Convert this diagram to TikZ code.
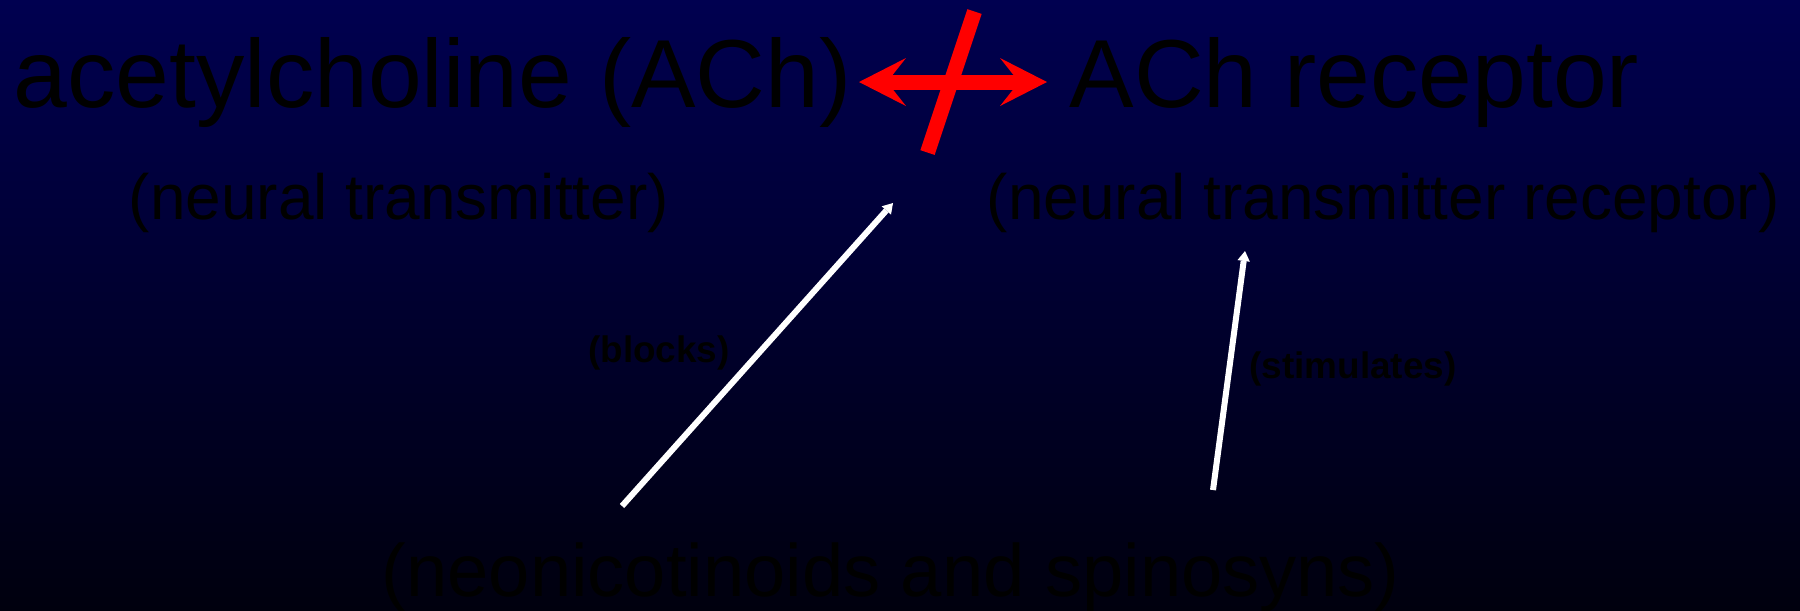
\documentclass[tikz,border=0pt]{standalone}
\usepackage{fontspec}
\setmainfont{Liberation Sans}
\usetikzlibrary{arrows.meta}
\definecolor{navytop}{RGB}{0,0,80}
\definecolor{navybottom}{RGB}{0,0,14}
\begin{document}
\begin{tikzpicture}[x=0.1mm, y=-0.1mm,
    bigtext/.style = {inner sep=0, anchor=base west, font=\fontsize{27.5pt}{32pt}\selectfont},
    subtext/.style = {inner sep=0, anchor=base west, font=\fontsize{18.2pt}{22pt}\selectfont},
    verbtext/.style = {inner sep=0, font=\bfseries\fontsize{10.5pt}{13pt}\selectfont},
    redmark/.style = {red, line width=1.5mm},
    redtip/.tip = {Stealth[length=4.7mm, width=4.8mm, inset=1.9mm, line width=0pt]},
    whitearrow/.style = {white, line width=0.6mm, -{Triangle[length=1.0mm, width=1.25mm, line width=0pt]}}]
		\useasboundingbox (0,0) rectangle (1800,610);
		\shade[top color=navytop, bottom color=navybottom] (0,0) rectangle (1800,610);
		% top line
		\node[bigtext] (ach) at (13,107) {acetylcholine (ACh)};
		\node[bigtext] (rec) at (1069,107) {ACh receptor};
		\node[subtext] (trans) at (128,219) {(neural transmitter)};
		\node[subtext] (transrec) at (986,219) {(neural transmitter receptor)};
		\node[verbtext] (blocks) at (659,353) {(blocks)};
		\node[verbtext] (stim) at (1353,369) {(stimulates)};
		\node[bigtext, font=\fontsize{21.1pt}{25pt}\selectfont] (neo) at (381,596) {(neonicotinoids and spinosyns)};
		% crossed double arrow
		\coordinate (lefttip) at (859,82);
		\coordinate (righttip) at (1047,82);
		\draw[redmark, {redtip}-{redtip}] (lefttip) -- (righttip);
		\draw[redmark] (974.5,11.5) -- (927.5,152.5);
		% white arrows
		\coordinate (blockstail) at (622,506);
		\coordinate (blockshead) at (893,203);
		\coordinate (stimtail) at (1213,490);
		\coordinate (stimhead) at (1245,251);
		\draw[whitearrow] (blockstail) -- (blockshead);
		\draw[whitearrow] (stimtail) -- (stimhead);
	\end{tikzpicture}
\end{document}
